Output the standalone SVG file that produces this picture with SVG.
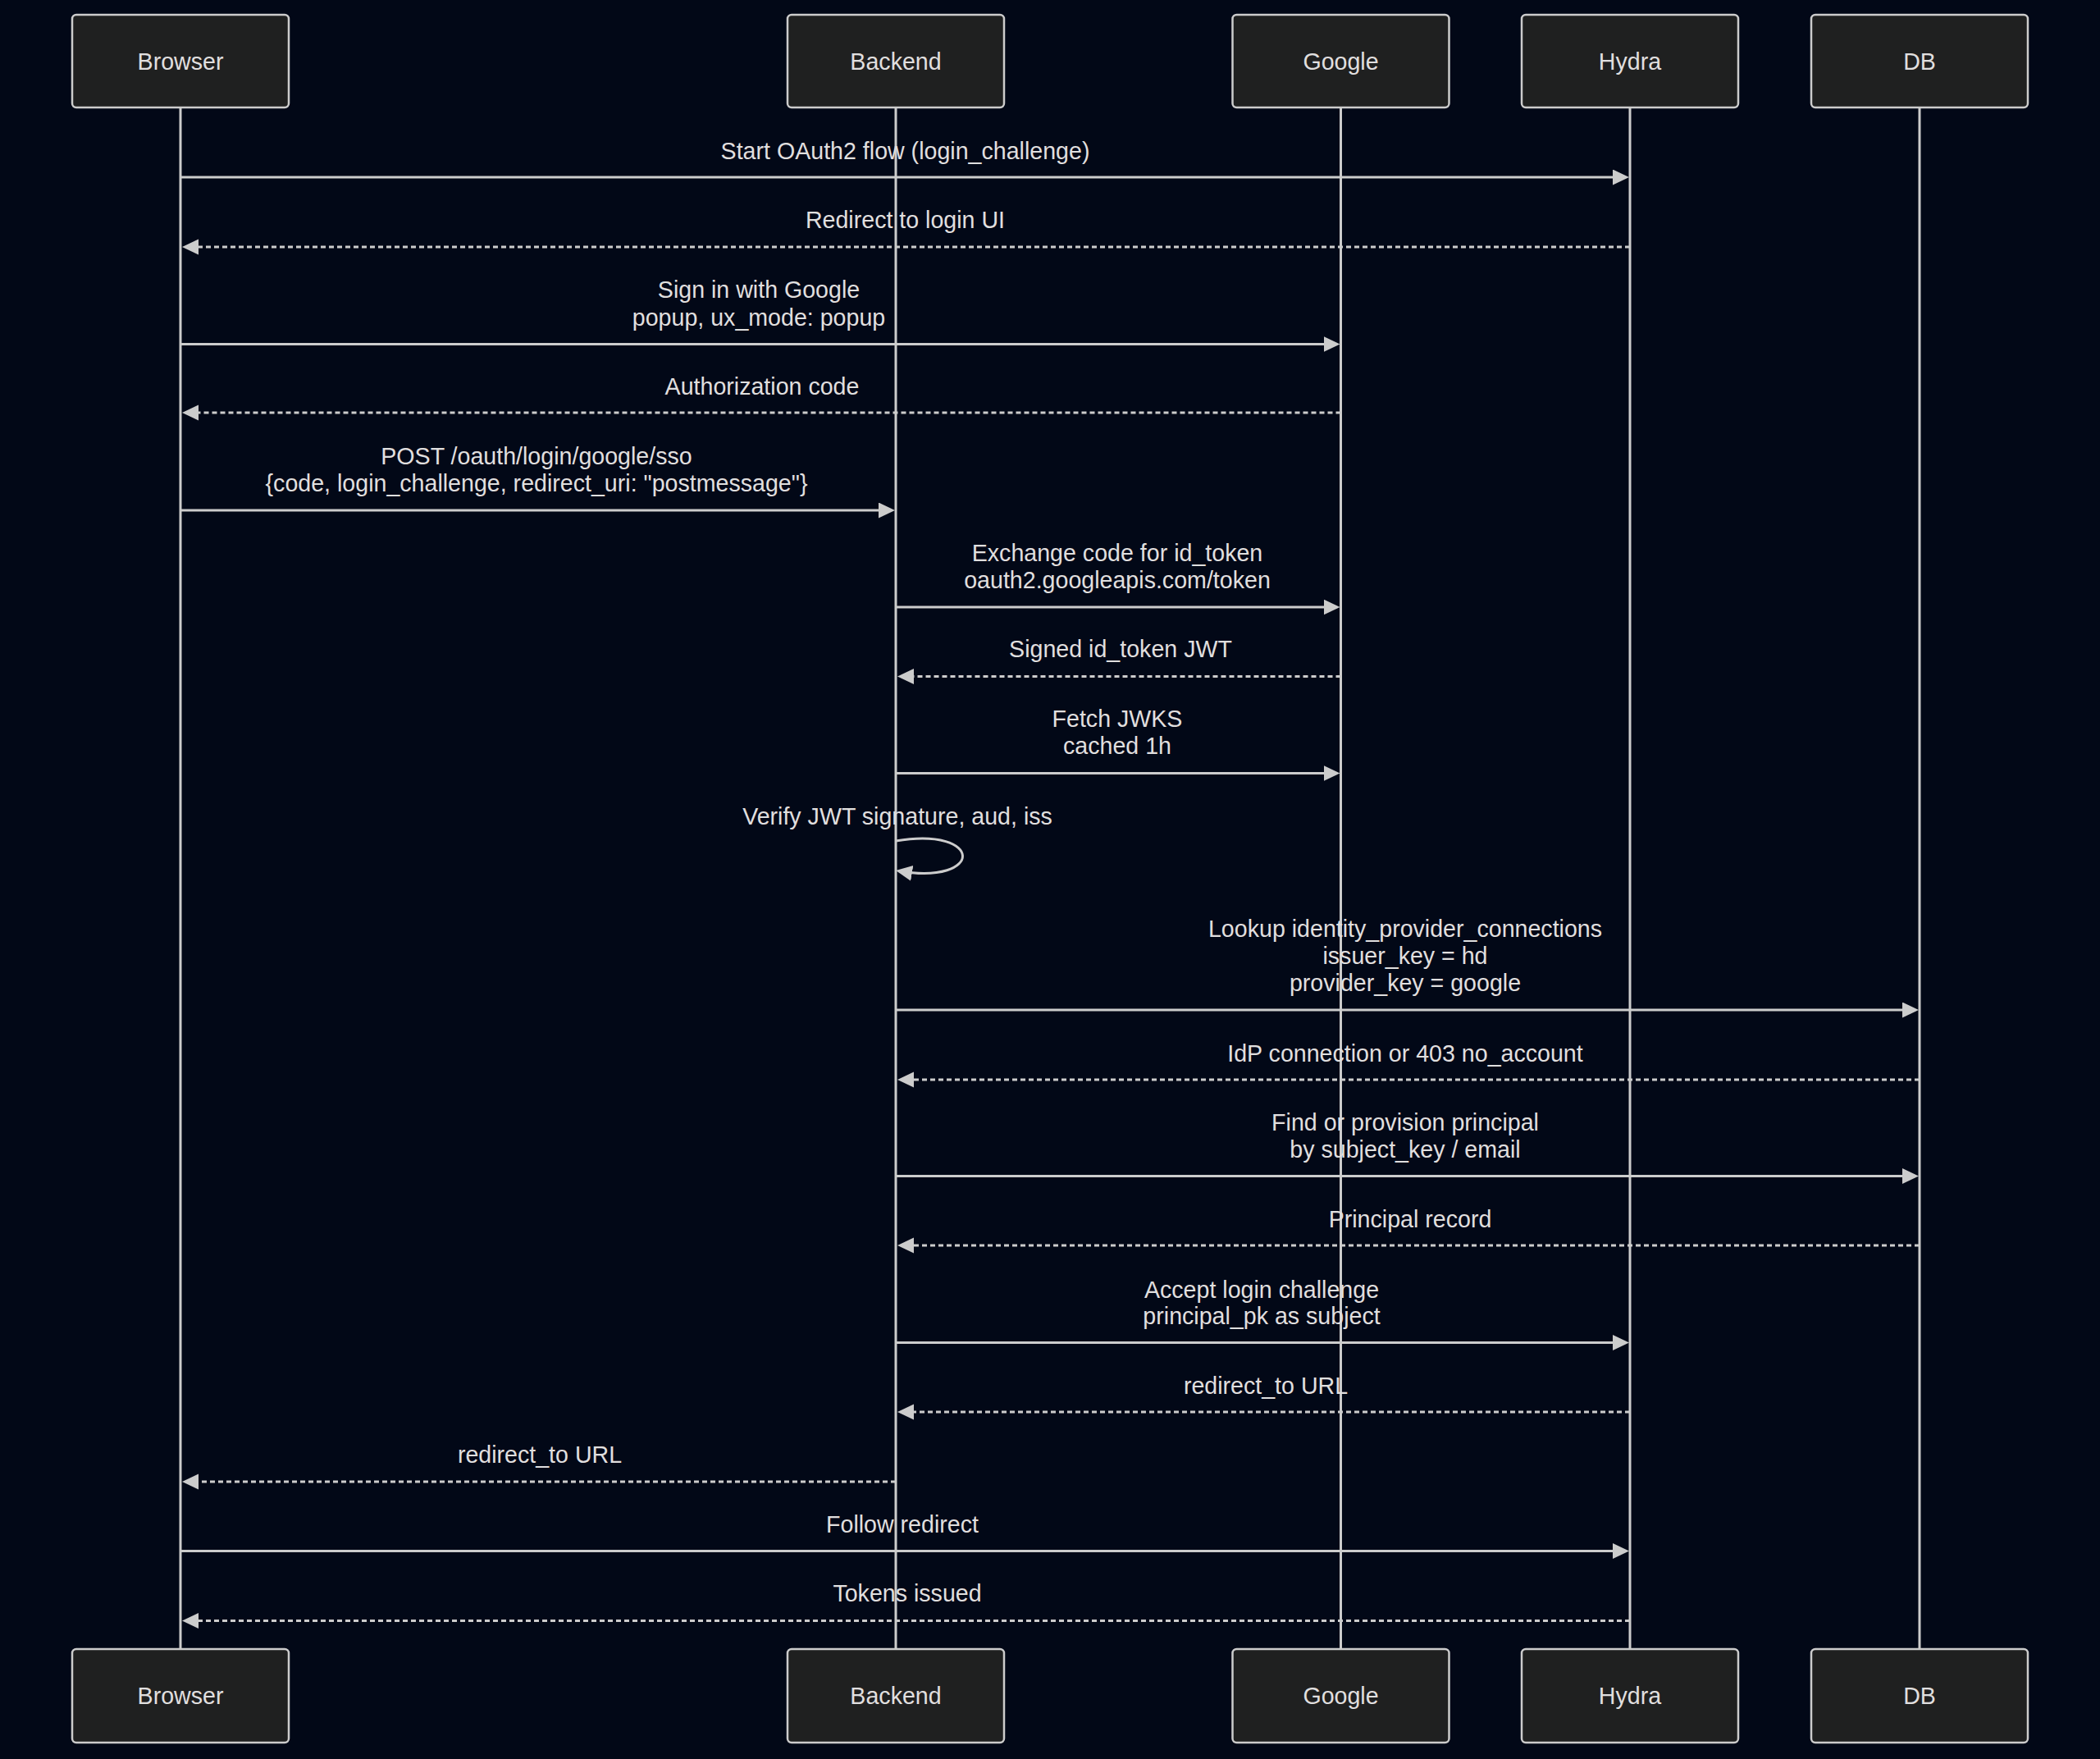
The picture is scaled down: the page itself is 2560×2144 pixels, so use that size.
<svg xmlns="http://www.w3.org/2000/svg" width="2560" height="2144" viewBox="0 0 2560 2144">
<style>
  .bg { fill: #020817; }
  .actor rect { fill: #1f2020; stroke: #cccccc; stroke-width: 2.5; }
  .actor text { fill: #e0dfdf; font-family: "Liberation Sans", Arial, sans-serif; font-size: 28.6px; text-anchor: middle; dominant-baseline: central; }
  .life line { stroke: #cccccc; stroke-width: 3; }
  .msg { stroke: #cccccc; stroke-width: 3; fill: none; marker-end: url(#arrow); }
  .dash { stroke-dasharray: 6 4; }
  .lbl { fill: #e0dfdf; font-family: "Liberation Sans", Arial, sans-serif; font-size: 28.6px; text-anchor: middle; dominant-baseline: central; }
</style>
<defs>
  <marker id="arrow" markerUnits="userSpaceOnUse" markerWidth="22" markerHeight="21" refX="16" refY="9.5" orient="auto">
    <path d="M0,0 L20,9.5 L0,19 z" fill="#cccccc"/>
  </marker>
</defs>
<rect class="bg" x="0" y="0" width="2560" height="2144"/>

<g id="lifelines" class="life">
  <line x1="220" y1="131" x2="220" y2="2010"/>
  <line x1="1092" y1="131" x2="1092" y2="2010"/>
  <line x1="1634.5" y1="131" x2="1634.5" y2="2010"/>
  <line x1="1987" y1="131" x2="1987" y2="2010"/>
  <line x1="2340" y1="131" x2="2340" y2="2010"/>
</g>

<g id="actor-browser" class="actor">
  <rect x="88" y="18" width="264" height="113" rx="5"/>
  <text x="220" y="75">Browser</text>
</g>
<g id="actor-backend" class="actor">
  <rect x="960" y="18" width="264" height="113" rx="5"/>
  <text x="1092" y="75">Backend</text>
</g>
<g id="actor-google" class="actor">
  <rect x="1502.5" y="18" width="264" height="113" rx="5"/>
  <text x="1634.5" y="75">Google</text>
</g>
<g id="actor-hydra" class="actor">
  <rect x="1855" y="18" width="264" height="113" rx="5"/>
  <text x="1987" y="75">Hydra</text>
</g>
<g id="actor-db" class="actor">
  <rect x="2208" y="18" width="264" height="113" rx="5"/>
  <text x="2340" y="75">DB</text>
</g>

<g id="actor-browser-bottom" class="actor">
  <rect x="88" y="2010" width="264" height="114" rx="5"/>
  <text x="220" y="2067">Browser</text>
</g>
<g id="actor-backend-bottom" class="actor">
  <rect x="960" y="2010" width="264" height="114" rx="5"/>
  <text x="1092" y="2067">Backend</text>
</g>
<g id="actor-google-bottom" class="actor">
  <rect x="1502.5" y="2010" width="264" height="114" rx="5"/>
  <text x="1634.5" y="2067">Google</text>
</g>
<g id="actor-hydra-bottom" class="actor">
  <rect x="1855" y="2010" width="264" height="114" rx="5"/>
  <text x="1987" y="2067">Hydra</text>
</g>
<g id="actor-db-bottom" class="actor">
  <rect x="2208" y="2010" width="264" height="114" rx="5"/>
  <text x="2340" y="2067">DB</text>
</g>

<g id="connectors">
  <line class="msg" x1="220" y1="216" x2="1982" y2="216"/>
  <line class="msg dash" x1="1987" y1="301" x2="226" y2="301"/>
  <line class="msg" x1="220" y1="419.5" x2="1629.5" y2="419.5"/>
  <line class="msg dash" x1="1634.5" y1="503" x2="226" y2="503"/>
  <line class="msg" x1="220" y1="622" x2="1087" y2="622"/>
  <line class="msg" x1="1092" y1="740" x2="1629.5" y2="740"/>
  <line class="msg dash" x1="1634.5" y1="824.5" x2="1098" y2="824.5"/>
  <line class="msg" x1="1092" y1="942.5" x2="1629.5" y2="942.5"/>
  <path class="msg" d="M1092,1025 C1200,1007 1200,1079 1096,1061.7"/>
  <line class="msg" x1="1092" y1="1231" x2="2335" y2="1231"/>
  <line class="msg dash" x1="2340" y1="1316" x2="1098" y2="1316"/>
  <line class="msg" x1="1092" y1="1433.5" x2="2335" y2="1433.5"/>
  <line class="msg dash" x1="2340" y1="1518" x2="1098" y2="1518"/>
  <line class="msg" x1="1092" y1="1636.5" x2="1982" y2="1636.5"/>
  <line class="msg dash" x1="1987" y1="1721" x2="1098" y2="1721"/>
  <line class="msg dash" x1="1092" y1="1806" x2="226" y2="1806"/>
  <line class="msg" x1="220" y1="1890.5" x2="1982" y2="1890.5"/>
  <line class="msg dash" x1="1987" y1="1975.5" x2="226" y2="1975.5"/>
</g>

<g id="labels" class="lbl">
  <text class="lbl" x="1103.5" y="184">Start OAuth2 flow (login_challenge)</text>
  <text class="lbl" x="1103.5" y="268">Redirect to login UI</text>
  <text class="lbl" x="925" y="353">Sign in with Google</text>
  <text class="lbl" x="925" y="387">popup, ux_mode: popup</text>
  <text class="lbl" x="929" y="471">Authorization code</text>
  <text class="lbl" x="654" y="556">POST /oauth/login/google/sso</text>
  <text class="lbl" x="654" y="589">{code, login_challenge, redirect_uri: "postmessage"}</text>
  <text class="lbl" x="1362" y="674">Exchange code for id_token</text>
  <text class="lbl" x="1362" y="707">oauth2.googleapis.com/token</text>
  <text class="lbl" x="1366" y="791">Signed id_token JWT</text>
  <text class="lbl" x="1362" y="876">Fetch JWKS</text>
  <text class="lbl" x="1362" y="909">cached 1h</text>
  <text class="lbl" x="1094" y="995">Verify JWT signature, aud, iss</text>
  <text class="lbl" x="1713" y="1132">Lookup identity_provider_connections</text>
  <text class="lbl" x="1713" y="1165">issuer_key = hd</text>
  <text class="lbl" x="1713" y="1198">provider_key = google</text>
  <text class="lbl" x="1713" y="1284">IdP connection or 403 no_account</text>
  <text class="lbl" x="1713" y="1368">Find or provision principal</text>
  <text class="lbl" x="1713" y="1401">by subject_key / email</text>
  <text class="lbl" x="1719" y="1486">Principal record</text>
  <text class="lbl" x="1538" y="1572">Accept login challenge</text>
  <text class="lbl" x="1538" y="1604">principal_pk as subject</text>
  <text class="lbl" x="1543" y="1689">redirect_to URL</text>
  <text class="lbl" x="658" y="1773">redirect_to URL</text>
  <text class="lbl" x="1100" y="1858">Follow redirect</text>
  <text class="lbl" x="1106" y="1942">Tokens issued</text>
</g>
</svg>
